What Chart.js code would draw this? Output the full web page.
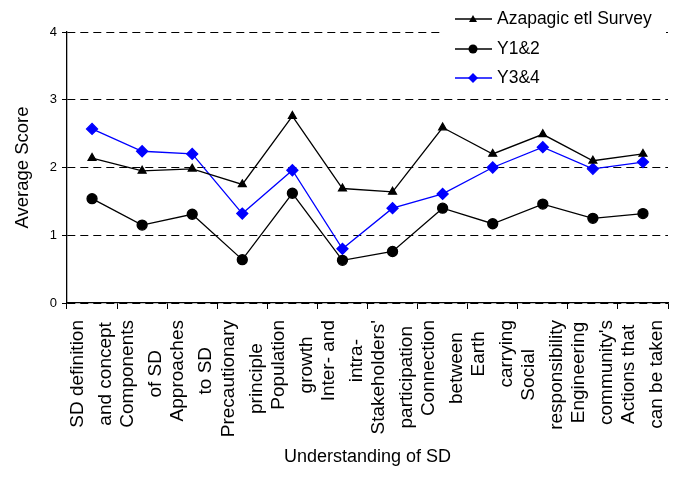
<!DOCTYPE html>
<html lang="en">
<head>
  <meta charset="UTF-8" />
  <title>Understanding of SD</title>
  <script src="https://cdn.jsdelivr.net/npm/chart.js@4.4.0/dist/chart.umd.min.js"></script>
  <style>
    body { margin: 0; background: #fff; }
    #wrap { width: 678px; height: 481px; position: relative; }
  </style>
</head>
<body>
  <div id="wrap"><canvas id="c"></canvas></div>
  <script>
    const categories = [
      ['SD definition', 'and concept'],
      ['Components', 'of SD'],
      ['Approaches', 'to SD'],
      ['Precautionary', 'principle'],
      ['Population', 'growth'],
      ['Inter- and', 'intra-'],
      ["Stakeholders'", 'participation'],
      ['Connection', 'between'],
      ['Earth', 'carrying'],
      ['Social', 'responsibility'],
      ['Engineering', "community's"],
      ['Actions that', 'can be taken']
    ];
    const azapagic = [2.14, 1.95, 1.98, 1.75, 2.76, 1.69, 1.64, 2.59, 2.20, 2.49, 2.10, 2.20];
    const y12 = [1.54, 1.15, 1.31, 0.64, 1.62, 0.63, 0.76, 1.40, 1.17, 1.46, 1.25, 1.32];
    const y34 = [2.57, 2.24, 2.20, 1.32, 1.96, 0.80, 1.40, 1.61, 2.00, 2.30, 1.98, 2.08];
    const seriesNames = ['Azapagic etl Survey', 'Y1&2', 'Y3&4'];

    const FONT = 'Arial, "Liberation Sans", sans-serif';

    // category labels: two lines each, centred on each other, rotated like Excel does
    const catLabels = {
      id: 'catLabels',
      afterDraw(chart) {
        const ctx = chart.ctx;
        const xs = chart.scales.x;
        const top = xs.top + 17;
        ctx.save();
        ctx.fillStyle = '#000';
        ctx.font = '19px ' + FONT;
        ctx.textAlign = 'center';
        ctx.textBaseline = 'middle';
        categories.forEach((lines, i) => {
          const x = xs.getPixelForValue(i);
          const w = Math.max(...lines.map(l => ctx.measureText(l).width));
          ctx.save();
          ctx.translate(x, top + w / 2);
          ctx.rotate(-Math.PI / 2);
          lines.forEach((l, j) => ctx.fillText(l, 0, (j - (lines.length - 1) / 2) * 28));
          ctx.restore();
        });
        ctx.restore();
      }
    };

    // legend drawn over the plot, like the original
    const boxLegend = {
      id: 'boxLegend',
      afterDraw(chart) {
        const ctx = chart.ctx;
        ctx.save();
        ctx.fillStyle = '#fff';
        ctx.fillRect(444, 4, 222, 88);
        const rows = [
          { name: seriesNames[0], color: '#000', shape: 'tri', y: 19 },
          { name: seriesNames[1], color: '#000', shape: 'dot', y: 49 },
          { name: seriesNames[2], color: '#0000ff', shape: 'dia', y: 78 }
        ];
        for (const r of rows) {
          ctx.strokeStyle = r.color;
          ctx.fillStyle = r.color;
          ctx.lineWidth = 1.3;
          ctx.beginPath();
          ctx.moveTo(455, r.y);
          ctx.lineTo(492, r.y);
          ctx.stroke();
          const cx = 473;
          ctx.beginPath();
          if (r.shape === 'tri') {
            ctx.moveTo(cx, r.y - 4); ctx.lineTo(cx + 4, r.y + 3); ctx.lineTo(cx - 4, r.y + 3);
          } else if (r.shape === 'dot') {
            ctx.arc(cx, r.y, 4.5, 0, Math.PI * 2);
          } else {
            ctx.moveTo(cx, r.y - 5); ctx.lineTo(cx + 5, r.y); ctx.lineTo(cx, r.y + 5); ctx.lineTo(cx - 5, r.y);
          }
          ctx.closePath();
          ctx.fill();
          ctx.fillStyle = '#000';
          ctx.font = '17.5px ' + FONT;
          ctx.textBaseline = 'middle';
          ctx.textAlign = 'left';
          ctx.fillText(r.name, 497, r.y);
        }
        ctx.restore();
      }
    };

    new Chart(document.getElementById('c'), {
      type: 'line',
      data: {
        labels: categories.map(c => c.join(' ')),
        datasets: [
          {
            label: seriesNames[0], data: azapagic,
            borderColor: '#000', backgroundColor: '#000', borderWidth: 1.3,
            pointStyle: 'triangle', pointRadius: 4.5, tension: 0
          },
          {
            label: seriesNames[1], data: y12,
            borderColor: '#000', backgroundColor: '#000', borderWidth: 1.3,
            pointStyle: 'circle', pointRadius: 5, tension: 0
          },
          {
            label: seriesNames[2], data: y34,
            borderColor: '#0000ff', backgroundColor: '#0000ff', borderWidth: 1.3,
            pointStyle: 'rectRot', pointRadius: 5.5, tension: 0
          }
        ]
      },
      options: {
        responsive: true,
        maintainAspectRatio: false,
        animation: false,
        layout: { padding: { top: 32, right: 10, left: 8, bottom: 13 } },
        plugins: { legend: { display: false }, tooltip: { enabled: false } },
        scales: {
          x: {
            offset: true,
            grid: { display: true, drawOnChartArea: false, offset: true, color: '#000', tickLength: 6 },
            border: { color: '#000', width: 1.3 },
            ticks: { display: false },
            title: {
              display: true, text: 'Understanding of SD', color: '#000',
              font: { family: FONT, size: 18 }, padding: { top: 0, bottom: 0 }
            },
            afterFit(s) { s.height = 165; s.paddingLeft = 0; s.paddingRight = 0; }
          },
          y: {
            min: 0, max: 4,
            grid: { color: '#000', lineWidth: 1, tickLength: 5, drawTicks: true },
            border: { color: '#000', width: 1.3, dash: [8, 5] },
            ticks: {
              stepSize: 1, color: '#000', padding: 5,
              font: { family: FONT, size: 13 }
            },
            title: {
              display: true, text: 'Average Score', color: '#000',
              font: { family: FONT, size: 18.5 }, padding: { bottom: 6 }
            },
            afterFit(s) { s.width = 59; }
          }
        }
      },
      plugins: [catLabels, boxLegend]
    });
  </script>
</body>
</html>
